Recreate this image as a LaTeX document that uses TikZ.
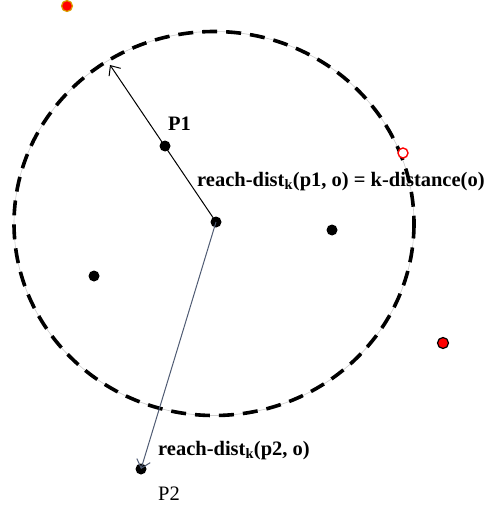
\documentclass[tikz,border=0pt]{standalone}
\usepackage{fontspec}
\setmainfont{Liberation Serif}
\usetikzlibrary{arrows.meta}
\definecolor{arrgray}{HTML}{4F5B73}
\definecolor{redfill}{HTML}{FF0000}
\definecolor{orangering}{HTML}{D9A000}
\tikzset{
  pt/.style={circle,fill=black,inner sep=0pt,minimum size=11pt},
  lbl/.style={font=\fontsize{20.5}{22}\selectfont\bfseries,inner sep=0pt},
  lblr/.style={font=\fontsize{20.5}{22}\selectfont,inner sep=0pt},
}
\begin{document}
\begin{tikzpicture}[x=1pt,y=-1pt]
\useasboundingbox (0,0) rectangle (490,508);
% dashed circle
\draw[gray!40,line width=0.6pt] (214,223.5) ellipse [x radius=200,y radius=192];
\draw[line width=3.6pt,dash pattern=on 15pt off 9pt] (214,223.5) ellipse [x radius=200,y radius=192];
% points
\node[pt] (o) at (216,222) {};
\node[pt] (p1) at (165,146) {};
\node[pt] (q1) at (332,230) {};
\node[pt] (q2) at (94,276) {};
\node[pt] (p2) at (141,469) {};
\coordinate (tip) at (110,65);
% red points
\node[circle,fill=redfill,draw=orangering,line width=1.2pt,inner sep=0pt,minimum size=11pt] (r1) at (67,6) {};
\node[circle,fill=redfill,draw=black,line width=1.2pt,inner sep=0pt,minimum size=11pt] (r2) at (443,343) {};
\node[circle,fill=white,draw=redfill,line width=1.4pt,inner sep=0pt,minimum size=10pt] (r3) at (403,153) {};
% arrows
\draw[line width=1pt,-{Straight Barb[length=8pt,width=14pt]}] (o.center) -- (tip);
\draw[arrgray,line width=1pt,-{Straight Barb[length=8pt,width=14pt]}] (o.center) -- (p2.center);
% labels
\node[lbl,anchor=base west] (l1) at (168,130) {P1};
\node[lbl,anchor=base west] (l2) at (197,186) {reach-dist\textsubscript{k}(p1, o) = k-distance(o)};
\node[lbl,anchor=base west] (l3) at (158,455) {reach-dist\textsubscript{k}(p2, o)};
\node[lblr,anchor=base west] (l4) at (158,500) {P2};
\end{tikzpicture}
\end{document}
